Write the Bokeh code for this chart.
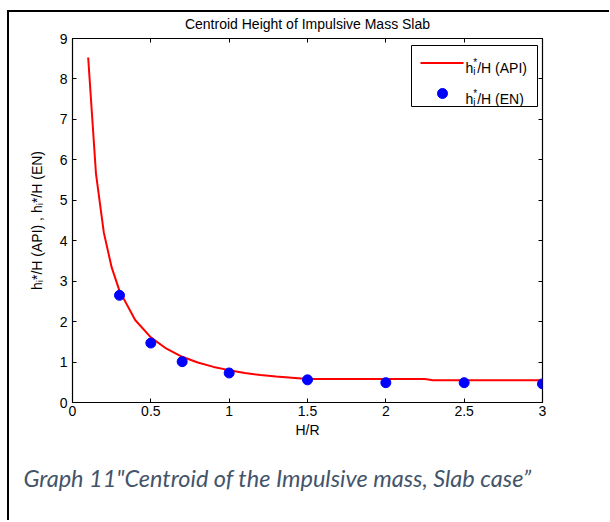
from bokeh.plotting import figure
from bokeh.models import Label, LinearAxis, FixedTicker, Range1d, Title
from bokeh.embed import file_html
from bokeh.resources import INLINE

# ---------------- data ----------------
title_text = "Centroid Height of Impulsive Mass Slab"
x_label = "H/R"
y_label = "h\u1d62*/H (API) , h\u1d62*/H (EN)"
caption_text = "Graph 11\"Centroid of the Impulsive mass, Slab case\u201d"

x_ticks = [0, 0.5, 1, 1.5, 2, 2.5, 3]
x_tick_labels = ["0", "0.5", "1", "1.5", "2", "2.5", "3"]
y_ticks = [0, 1, 2, 3, 4, 5, 6, 7, 8, 9]
y_tick_labels = ["0", "1", "2", "3", "4", "5", "6", "7", "8", "9"]

# h_i*/H (API) curve
api_x = [0.10, 0.15, 0.20, 0.25, 0.30, 0.40, 0.50, 0.60, 0.70, 0.80, 0.90,
         1.00, 1.10, 1.20, 1.30, 1.40, 1.50, 2.25, 2.30, 3.00]
api_y = [8.53, 5.65, 4.20, 3.34, 2.76, 2.04, 1.61, 1.33, 1.13, 0.99, 0.88,
         0.80, 0.73, 0.68, 0.64, 0.61, 0.58, 0.58, 0.55, 0.55]

# h_i*/H (EN) points
en_x = [0.3, 0.5, 0.7, 1.0, 1.5, 2.0, 2.5, 3.0]
en_y = [2.65, 1.47, 1.01, 0.73, 0.56, 0.49, 0.49, 0.46]

legend_api = "/H (API)"
legend_en = "/H (EN)"

# ---------------- layout helpers ----------------
X0, X1 = 0.0, 3.0
Y0, Y1 = 0.0, 9.0
FL, FR, FT, FB = 72, 542, 38, 402   # frame edges in page pixels
MX, MY = 7, 10                      # css margin of the figure (page border position)
BW = 2                              # border width
OX, OY = MX + BW, MY + BW           # canvas origin on the page
W, H = 600, 508


def X(px):
    return X0 + (px - FL) / (FR - FL) * (X1 - X0)


def Y(py):
    return Y0 + (FB - py) / (FB - FT) * (Y1 - Y0)


FONT = "Liberation Sans"
FS = 14
SFS = 10
ARIAL = {'h': 556, '/': 278, 'H': 722, ' ': 278, '(': 333, 'A': 667, 'P': 667,
         'I': 278, ')': 333, ',': 278, 'E': 667, 'N': 722, '*': 389, 'i': 222}


def tw(s, size):
    return sum(ARIAL.get(c, 556) for c in s) / 1000.0 * size


p = figure(width=W, height=H, output_backend="svg", toolbar_location=None,
           x_range=Range1d(X0, X1), y_range=Range1d(Y0, Y1), title=None,
           min_border_left=FL - OX, min_border_right=W - (FR - OX),
           min_border_top=FT - OY, min_border_bottom=H - (FB - OY),
           frame_width=FR - FL, frame_height=FB - FT)
p.margin = (MY, 0, 0, MX)
p.styles = {"border-top": f"{BW}px solid black", "border-left": f"{BW}px solid black"}
p.background_fill_color = "white"
p.border_fill_color = "white"
p.outline_line_color = "black"
p.outline_line_width = 1.2
p.xgrid.visible = False
p.ygrid.visible = False

for ax in (p.xaxis[0], p.yaxis[0]):
    ax.axis_line_color = None
    ax.major_tick_in = 4
    ax.major_tick_out = 0
    ax.minor_tick_line_color = None
    ax.major_tick_line_color = "black"
    ax.major_label_text_font = FONT
    ax.major_label_text_font_size = f"{FS}px"
    ax.major_label_text_color = "black"
    ax.axis_label_text_font = FONT
    ax.axis_label_text_font_size = f"{FS}px"
    ax.axis_label_text_font_style = "normal"
    ax.axis_label_text_color = "black"
p.xaxis.ticker = FixedTicker(ticks=x_ticks)
p.yaxis.ticker = FixedTicker(ticks=y_ticks)
p.xaxis.major_label_overrides = dict(zip(x_ticks, x_tick_labels))
p.yaxis.major_label_overrides = dict(zip(y_ticks, y_tick_labels))
p.xaxis.major_label_standoff = 3
p.yaxis.major_label_standoff = 5
p.xaxis.axis_label = x_label
p.xaxis.axis_label_standoff = 3
p.yaxis.axis_label = y_label
p.yaxis.axis_label_standoff = 12

# top axis carries the chart title as its label
top_ax = LinearAxis(ticker=FixedTicker(ticks=x_ticks), axis_line_color=None,
                    major_tick_in=4, major_tick_out=0, minor_tick_line_color=None,
                    major_label_text_color=None, major_label_text_font_size="0px",
                    major_label_standoff=0,
                    axis_label=title_text, axis_label_text_font=FONT,
                    axis_label_text_font_size=f"{FS}px",
                    axis_label_text_font_style="normal",
                    axis_label_text_color="black", axis_label_standoff=7)
right_ax = LinearAxis(ticker=FixedTicker(ticks=y_ticks), axis_line_color=None,
                      major_tick_in=4, major_tick_out=0, minor_tick_line_color=None,
                      major_label_text_color=None, major_label_text_font_size="0px",
                      major_label_standoff=0)
p.add_layout(top_ax, "above")
p.add_layout(right_ax, "right")

caption = Title(text=caption_text, align="left", offset=23 - FL,
                text_font="Lato", text_font_style="italic", text_font_size="23.5px",
                text_color="#44546A", standoff=43)
p.add_layout(caption, "below")

# data
p.line(api_x, api_y, line_color="#ff0000", line_width=2)
p.scatter(en_x, en_y, size=10, fill_color="#0000ff", line_color="#0000ff")

# legend box
p.quad(left=[X(411)], right=[X(537)], top=[Y(45)], bottom=[Y(106)],
       fill_color="white", line_color="black", line_width=1)
p.line([X(420), X(463)], [Y(62.5), Y(62.5)], line_color="#ff0000", line_width=2)
p.scatter([X(442)], [Y(93)], size=10, fill_color="#0000ff", line_color="#0000ff")


def add_text(px, py, text, size):
    p.add_layout(Label(x=X(px), y=Y(py), text=text, text_font=FONT,
                       text_font_size=f"{size}px", text_align="left",
                       text_baseline="alphabetic", text_color="black"))


def hstar(px, py, rest):
    add_text(px, py, "h", FS)
    a = px + tw("h", FS)
    add_text(a, py + 4, "i", SFS)
    add_text(a, py - 5, "*", SFS)
    add_text(a + tw("*", SFS), py, rest, FS)


hstar(465, 67, legend_api)
hstar(465, 98, legend_en)

open("out.html", "w").write(file_html(p, INLINE))
